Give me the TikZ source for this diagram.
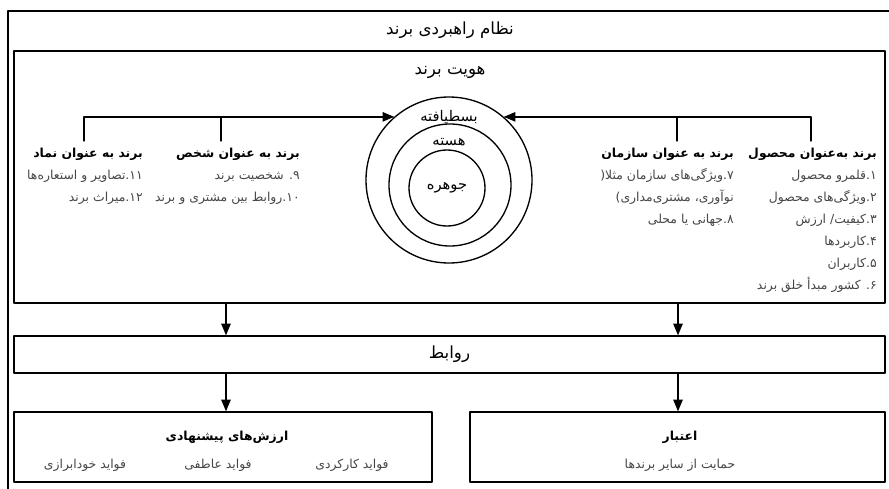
\documentclass[tikz,border=0pt]{standalone}
\usepackage{fontspec}
\newfontfamily\fa[Script=Arabic]{DejaVu Sans}
\TeXXeTstate=1
\usetikzlibrary{arrows}
\usetikzlibrary{positioning}
\usetikzlibrary{fit}
\definecolor{itemgray}{RGB}{70,70,70}

\begin{document}
\begin{tikzpicture}[line cap=round,line join=round,>=triangle 45,x=0.75pt,y=-0.75pt,
  box/.style={draw,line width=1.2pt,inner sep=0pt},
  ring/.style={draw,circle,line width=1pt,inner sep=0pt},
  title/.style={font=\fa\fontsize{12.5}{14}\selectfont},
  col/.style={anchor=north east,align=right,inner sep=0pt,text=itemgray,font=\fa\fontsize{9.3}{16.5}\selectfont},
  item/.style={text=itemgray,font=\fa\fontsize{9.3}{11}\selectfont}]
\useasboundingbox (0,0) rectangle (889,489);
\clip (0,0) rectangle (889,489);
\node[box,line width=1pt,fit={(8,11)(900,500)}] (nezam) {};
\node[box,fit={(14,51)(885,303)}] (hoviyat) {};
\node[box,fit={(14,336)(885,373)}] (ravabet) {};
\node[box,fit={(14,412)(432,482)}] (arzesh) {};
\node[box,fit={(470,412)(885,482)}] (etebar) {};
\node[title] (t-nezam) at (450,30) {\beginR نظام راهبردی برند\endR};
\node[title] (t-hoviyat) at (450,72) {\beginR هویت برند\endR};
\node[title] (t-ravabet) at (ravabet.center) {\beginR روابط\endR};
% circles
\node[ring,minimum size=124.5pt] (bast) at (449,180) {};
\node[ring,minimum size=91.5pt] (haste) at (450,185) {};
\node[ring,minimum size=57pt] (johar) at (447,188) {};
\node[item,text=black,font=\fa\fontsize{11}{12}\selectfont] (l-bast) at (449,117) {\beginR بسطیافته\endR};
\node[item,text=black,font=\fa\fontsize{11}{12}\selectfont] (l-haste) at (449,142) {\beginR هسته\endR};
\node[item,text=black,font=\fa\fontsize{11}{12}\selectfont] (l-johar) at (447,188) {\beginR جوهره\endR};
% columns
\node[col] (mahsul) at (877,148) {\textcolor{black}{\bfseries\beginR برند به‌عنوان محصول\endR}\\
  \beginR ۱.قلمرو محصول\endR\\
  \beginR ۲.ویژگی‌های محصول\endR\\
  \beginR ۳.کیفیت/ ارزش\endR\\
  \beginR ۴.کاربردها\endR\\
  \beginR ۵.کاربران\endR\\
  \beginR ۶. کشور مبدأ خلق برند\endR};
\node[col] (sazman) at (734,148) {\textcolor{black}{\bfseries\beginR برند به عنوان سازمان\endR}\\
  (\beginR ۷.ویژگی‌های سازمان مثلا\endR\\
  )\beginR نوآوری، مشتری‌مداری\endR\\
  \beginR ۸.جهانی یا محلی\endR};
\node[col] (shakhs) at (300,148) {\textcolor{black}{\bfseries\beginR برند به عنوان شخص\endR}\\
  \beginR ۹. شخصیت برند\endR\\
  \beginR ۱۰.روابط بین مشتری و برند\endR};
\node[col] (nemad) at (143,148) {\textcolor{black}{\bfseries\beginR برند به عنوان نماد\endR}\\
  \beginR ۱۱.تصاویر و استعاره‌ها\endR\\
  \beginR ۱۲.میراث برند\endR};
% connectors to the rings
\coordinate (v1) at (811,141);
\coordinate (v2) at (677,141);
\coordinate (v3) at (221,141);
\coordinate (v4) at (84,141);
\draw[line width=1pt,->] (v1) |- (bast.49);
\draw[line width=1pt] (v2) -- (v2 |- bast.49);
\draw[line width=1pt,->] (v4) |- (bast.131);
\draw[line width=1pt] (v3) -- (v3 |- bast.131);
% down arrows
\coordinate (cl) at (226,0);
\coordinate (cr) at (678,0);
\draw[line width=1pt,->] (hoviyat.south -| cl) -- (ravabet.north -| cl);
\draw[line width=1pt,->] (hoviyat.south -| cr) -- (ravabet.north -| cr);
\draw[line width=1pt,->] (ravabet.south -| cl) -- (arzesh.north -| cl);
\draw[line width=1pt,->] (ravabet.south -| cr) -- (etebar.north -| cr);
% bottom texts
\node[item,text=black,font=\fa\bfseries\fontsize{9.3}{11}\selectfont] (t-arzesh) at (227,437) {\beginR ارزش‌های پیشنهادی\endR};
\node[item] (karkardi) at (352,465) {\beginR فواید کارکردی\endR};
\node[item] (atefi) at (218,465) {\beginR فواید عاطفی\endR};
\node[item] (khod) at (85,465) {\beginR فواید خودابرازی\endR};
\node[item,text=black,font=\fa\bfseries\fontsize{9.3}{11}\selectfont] (t-etebar) at (680,437) {\beginR اعتبار\endR};
\node[item] (hemayat) at (680,465) {\beginR حمایت از سایر برندها\endR};
\end{tikzpicture}
\end{document}
